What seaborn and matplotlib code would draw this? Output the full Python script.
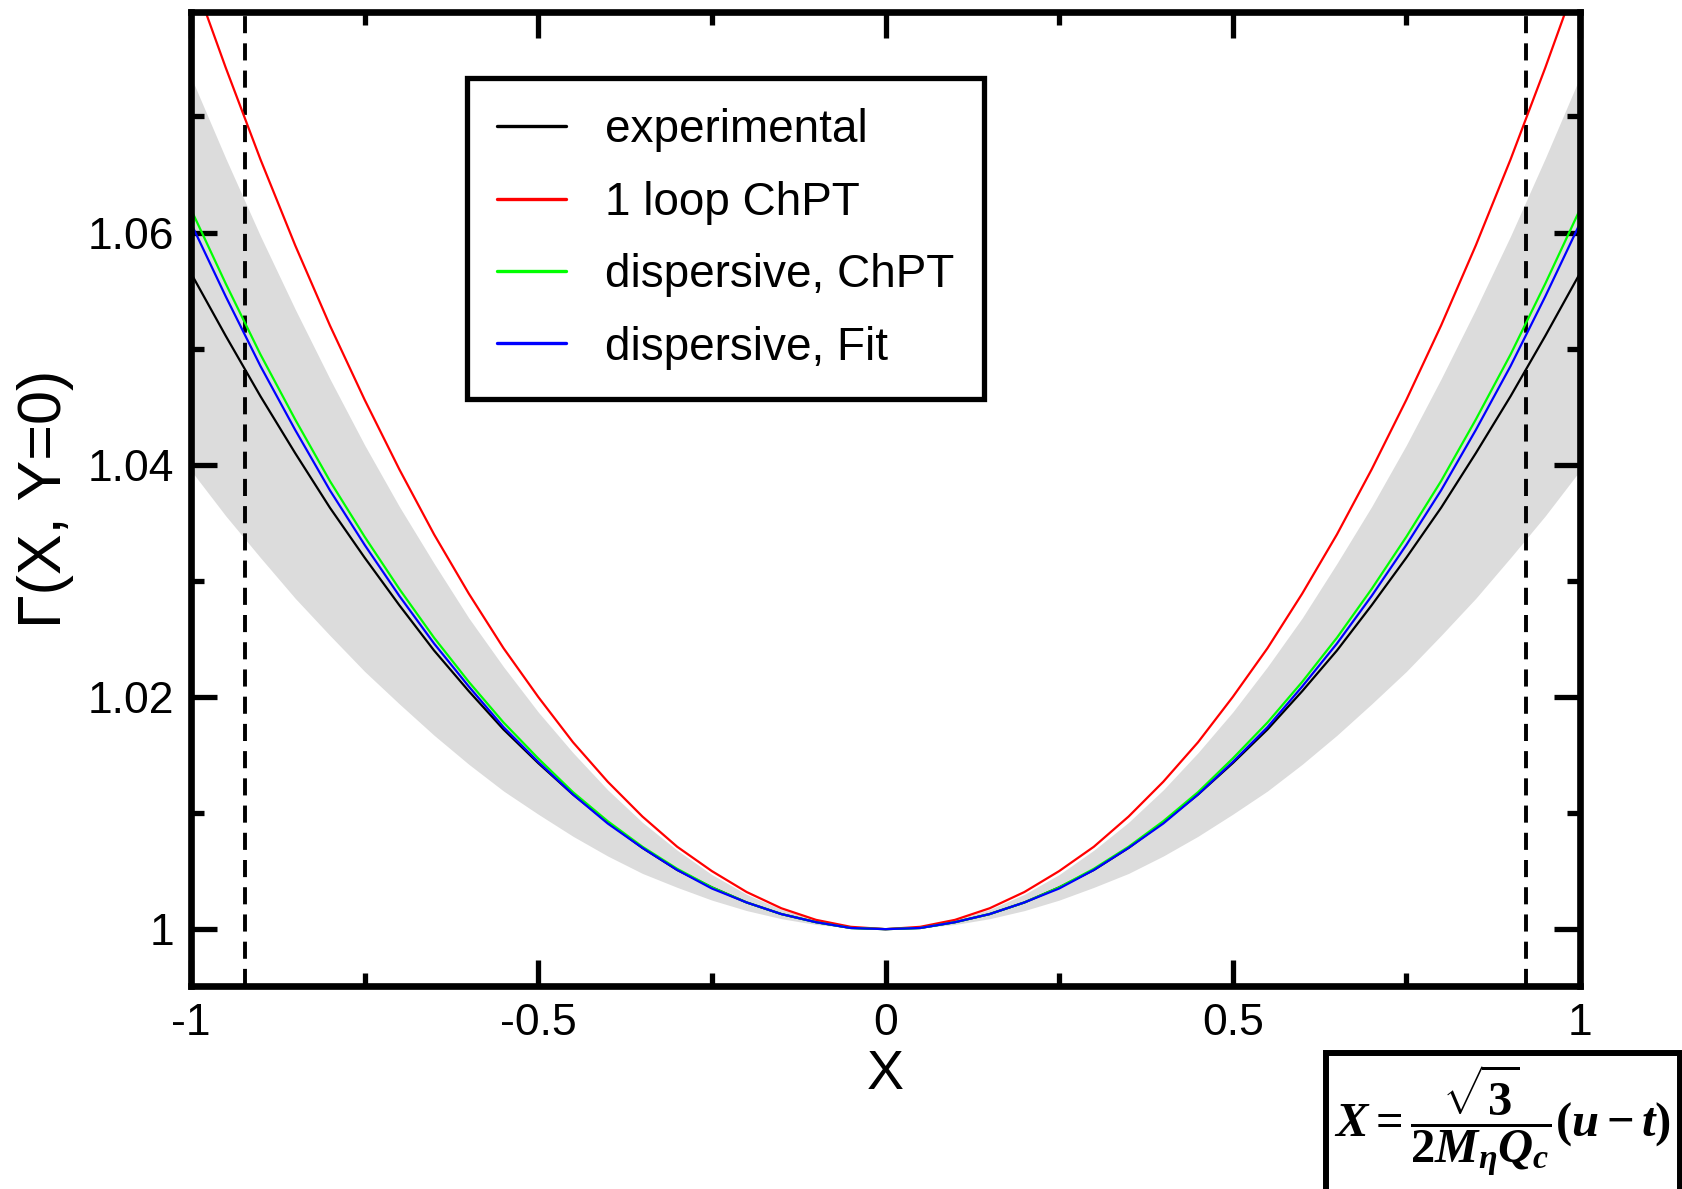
import matplotlib
matplotlib.use("Agg")
import numpy as np
import pandas as pd
import matplotlib.pyplot as plt
import seaborn as sns
from matplotlib.patches import Rectangle
from matplotlib.lines import Line2D
from matplotlib.ticker import FixedLocator

# ---------------- data ----------------
x_vals = [-1.00, -0.95, -0.90, -0.85, -0.80, -0.75, -0.70, -0.65, -0.60, -0.55, -0.50,
          -0.45, -0.40, -0.35, -0.30, -0.25, -0.20, -0.15, -0.10, -0.05, 0.00,
          0.05, 0.10, 0.15, 0.20, 0.25, 0.30, 0.35, 0.40, 0.45, 0.50,
          0.55, 0.60, 0.65, 0.70, 0.75, 0.80, 0.85, 0.90, 0.95, 1.00]

experimental = [1.0565, 1.0511, 1.0459, 1.0410, 1.0363, 1.0320, 1.0279, 1.0240, 1.0205, 1.0172, 1.0143,
                1.0116, 1.0092, 1.0070, 1.0051, 1.0036, 1.0023, 1.0013, 1.0006, 1.0001, 1.0000,
                1.0001, 1.0006, 1.0013, 1.0023, 1.0036, 1.0051, 1.0070, 1.0092, 1.0116, 1.0143,
                1.0172, 1.0205, 1.0240, 1.0279, 1.0320, 1.0363, 1.0410, 1.0459, 1.0511, 1.0565]
one_loop_chpt = [1.0825, 1.0742, 1.0663, 1.0589, 1.0520, 1.0456, 1.0396, 1.0340, 1.0289, 1.0242, 1.0200,
                 1.0161, 1.0127, 1.0097, 1.0071, 1.0050, 1.0032, 1.0018, 1.0008, 1.0002, 1.0000,
                 1.0002, 1.0008, 1.0018, 1.0032, 1.0050, 1.0071, 1.0097, 1.0127, 1.0161, 1.0200,
                 1.0242, 1.0289, 1.0340, 1.0396, 1.0456, 1.0520, 1.0589, 1.0663, 1.0742, 1.0825]
dispersive_chpt = [1.0620, 1.0556, 1.0495, 1.0439, 1.0386, 1.0338, 1.0293, 1.0251, 1.0213, 1.0178, 1.0147,
                   1.0118, 1.0093, 1.0071, 1.0052, 1.0036, 1.0023, 1.0013, 1.0006, 1.0001, 1.0000,
                   1.0001, 1.0006, 1.0013, 1.0023, 1.0036, 1.0052, 1.0071, 1.0093, 1.0118, 1.0147,
                   1.0178, 1.0213, 1.0251, 1.0293, 1.0338, 1.0386, 1.0439, 1.0495, 1.0556, 1.0620]
dispersive_fit = [1.0608, 1.0545, 1.0485, 1.0430, 1.0378, 1.0331, 1.0287, 1.0246, 1.0209, 1.0174, 1.0144,
                  1.0116, 1.0091, 1.0070, 1.0051, 1.0035, 1.0023, 1.0013, 1.0006, 1.0001, 1.0000,
                  1.0001, 1.0006, 1.0013, 1.0023, 1.0035, 1.0051, 1.0070, 1.0091, 1.0116, 1.0144,
                  1.0174, 1.0209, 1.0246, 1.0287, 1.0331, 1.0378, 1.0430, 1.0485, 1.0545, 1.0608]
band_upper = [1.0734, 1.0664, 1.0597, 1.0534, 1.0474, 1.0417, 1.0364, 1.0315, 1.0268, 1.0226, 1.0187,
              1.0152, 1.0120, 1.0092, 1.0068, 1.0047, 1.0030, 1.0017, 1.0008, 1.0002, 1.0000,
              1.0002, 1.0008, 1.0017, 1.0030, 1.0047, 1.0068, 1.0092, 1.0120, 1.0152, 1.0187,
              1.0226, 1.0268, 1.0315, 1.0364, 1.0417, 1.0474, 1.0534, 1.0597, 1.0664, 1.0734]
band_lower = [1.0395, 1.0356, 1.0320, 1.0285, 1.0253, 1.0222, 1.0194, 1.0167, 1.0142, 1.0119, 1.0099,
              1.0080, 1.0063, 1.0048, 1.0036, 1.0025, 1.0016, 1.0009, 1.0004, 1.0001, 1.0000,
              1.0001, 1.0004, 1.0009, 1.0016, 1.0025, 1.0036, 1.0048, 1.0063, 1.0080, 1.0099,
              1.0119, 1.0142, 1.0167, 1.0194, 1.0222, 1.0253, 1.0285, 1.0320, 1.0356, 1.0395]

boundary_x = [-0.922, 0.922]

series_names = ["experimental", "1 loop ChPT", "dispersive, ChPT", "dispersive, Fit"]
series_colors = ["#000000", "#ff0000", "#00ff00", "#0000ff"]

x_ticks = [-1.0, -0.5, 0.0, 0.5, 1.0]
x_tick_labels = ["-1", "-0.5", "0", "0.5", "1"]
x_minor_ticks = [-0.75, -0.25, 0.25, 0.75]
y_ticks = [1.00, 1.02, 1.04, 1.06]
y_tick_labels = ["1", "1.02", "1.04", "1.06"]
y_minor_ticks = [1.01, 1.03, 1.05, 1.07]

x_label = "X"
y_label = "\u0393(X, Y=0)"
formula = r"$X=\dfrac{\sqrt{3}}{2M_{\eta}Q_{c}}(u-t)$"

# ---------------- style ----------------
sns.set_style("white")
plt.rcParams["font.family"] = ["Liberation Sans", "DejaVu Sans"]
plt.rcParams["axes.unicode_minus"] = False
plt.rcParams["text.color"] = "black"
plt.rcParams["axes.labelcolor"] = "black"
plt.rcParams["xtick.color"] = "black"
plt.rcParams["ytick.color"] = "black"
plt.rcParams["mathtext.fontset"] = "custom"
plt.rcParams["mathtext.rm"] = "Liberation Serif:bold"
plt.rcParams["mathtext.it"] = "Liberation Serif:italic:bold"
plt.rcParams["mathtext.bf"] = "Liberation Serif:bold"

fig = plt.figure(figsize=(16.83, 11.89), dpi=100)
ax = fig.add_axes([0.1135, 0.1707, 0.9388 - 0.1135, 0.9899 - 0.1707])
ax.set_axisbelow(False)

df = pd.DataFrame({
    "X": x_vals * 4,
    "Gamma": experimental + one_loop_chpt + dispersive_chpt + dispersive_fit,
    "model": sum([[n] * len(x_vals) for n in series_names], []),
})

ax.fill_between(x_vals, band_lower, band_upper, color="#dcdcdc", linewidth=0, zorder=1)

for xb in boundary_x:
    ax.axvline(xb, color="black", lw=2.8, linestyle=(0, (4.4, 2.6)), zorder=2)

sns.lineplot(data=df, x="X", y="Gamma", hue="model", hue_order=series_names,
             palette=dict(zip(series_names, series_colors)), linewidth=1.6,
             ax=ax, legend=False, zorder=3, sort=False, estimator=None)

ax.set_xlim(-1.0, 1.0)
ax.set_ylim(0.9951, 1.0790)

ax.xaxis.set_major_locator(FixedLocator(x_ticks))
ax.set_xticklabels(x_tick_labels)
ax.xaxis.set_minor_locator(FixedLocator(x_minor_ticks))
ax.yaxis.set_major_locator(FixedLocator(y_ticks))
ax.set_yticklabels(y_tick_labels)
ax.yaxis.set_minor_locator(FixedLocator(y_minor_ticks))

for s in ax.spines.values():
    s.set_linewidth(4.8)
    s.set_color("black")
    s.set_visible(True)
    s.set_zorder(4)

ax.tick_params(which="major", direction="in", length=18.7, width=3.8,
               top=True, right=True, bottom=True, left=True,
               labelsize=32, pad=12, colors="black")
ax.tick_params(which="minor", direction="in", length=9.4, width=3.8,
               top=True, right=True, bottom=True, left=True, colors="black")

ax.set_xlabel(x_label, fontsize=40, labelpad=4)
ax.set_ylabel(y_label, fontsize=44, labelpad=10)

# legend
handles = [Line2D([], [], color=c, lw=2.4) for c in series_colors]
leg = ax.legend(handles, series_names, loc="upper left", bbox_to_anchor=(0.2775, 0.934),
                bbox_transform=fig.transFigure, fontsize=33, frameon=True, fancybox=False,
                framealpha=1, edgecolor="black", handlelength=1.5, handletextpad=0.85,
                labelspacing=0.62, borderpad=0.65, borderaxespad=0)
leg.get_frame().set_linewidth(3.8)
for t in leg.get_texts():
    t.set_color("black")

# formula box
rect = Rectangle((1326 / 1683, -0.02), (1680 - 1326) / 1683, 0.02 + (1 - 1053 / 1189),
                 transform=fig.transFigure, fill=False, edgecolor="black", lw=4.3, clip_on=False)
fig.add_artist(rect)
fig.text(0.893, 0.058, formula, ha="center", va="center", fontsize=35)

fig.savefig("out.png", dpi=100)
